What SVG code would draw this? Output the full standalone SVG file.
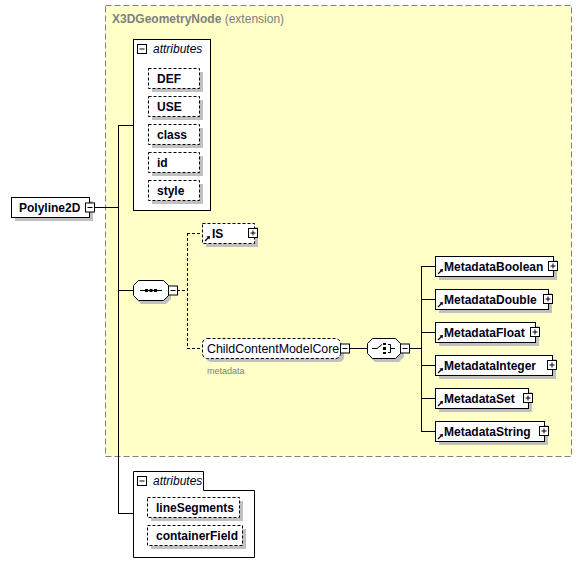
<svg xmlns="http://www.w3.org/2000/svg" width="582" height="577" viewBox="0 0 582 577">
<style>
text{font-family:"Liberation Sans",Arial,sans-serif;font-size:12px;fill:#000018}
.b{font-weight:bold}
.it{font-style:italic}
.sh{fill:#c0c0c0;stroke:none}
.box{fill:#fff;stroke:#000;stroke-width:1}
.opt{fill:#fff;stroke:#000;stroke-width:1;stroke-dasharray:3,2}
.ln{stroke:#000;stroke-width:1;fill:none}
.dl{stroke:#000;stroke-width:1;fill:none;stroke-dasharray:3,2}
.pm{fill:#fff;stroke:#000;stroke-width:1}
</style>
<defs>
<g id="minus"><rect class="pm" x="0.5" y="0.5" width="9" height="9"/><line class="ln" x1="2.5" y1="5" x2="7.5" y2="5"/></g>
<g id="plus"><rect class="pm" x="0.5" y="0.5" width="9" height="9"/><line class="ln" x1="2.5" y1="5" x2="7.5" y2="5"/><line class="ln" x1="5" y1="2.5" x2="5" y2="7.5"/></g>
<g id="ref"><line x1="0" y1="5" x2="3.5" y2="1.5" stroke="#000" stroke-width="1.2"/><path d="M1.5,0.5 L5,0 L4.5,3.5 Z" fill="#000"/></g>
</defs>

<g id="extension">
<rect x="105.5" y="5.5" width="466" height="451" fill="#ffffc8" stroke="#808080" stroke-dasharray="6,3"/>
<text x="112" y="23" class="b" style="fill:#808080">X3DGeometryNode <tspan style="font-weight:normal">(extension)</tspan></text>
</g>

<g id="connectors">
<line class="ln" x1="95" y1="207.5" x2="118.5" y2="207.5"/>
<line class="ln" x1="118.5" y1="125" x2="118.5" y2="513"/>
<line class="ln" x1="118" y1="125.5" x2="133" y2="125.5"/>
<line class="ln" x1="118" y1="290.5" x2="133" y2="290.5"/>
<line class="ln" x1="118" y1="513.5" x2="133" y2="513.5"/>
<line class="dl" x1="177" y1="290.5" x2="187.5" y2="290.5"/>
<line class="dl" x1="187.5" y1="233" x2="187.5" y2="348"/>
<line class="dl" x1="187" y1="233.5" x2="202" y2="233.5"/>
<line class="dl" x1="187" y1="348.5" x2="202" y2="348.5"/>
<line class="ln" x1="350" y1="348.5" x2="367" y2="348.5"/>
<line class="ln" x1="410" y1="348.5" x2="421.5" y2="348.5"/>
<line class="ln" x1="421.5" y1="266" x2="421.5" y2="432"/>
<line class="ln" x1="421" y1="266.5" x2="435" y2="266.5"/>
<line class="ln" x1="421" y1="299.5" x2="435" y2="299.5"/>
<line class="ln" x1="421" y1="332.5" x2="435" y2="332.5"/>
<line class="ln" x1="421" y1="365.5" x2="435" y2="365.5"/>
<line class="ln" x1="421" y1="398.5" x2="435" y2="398.5"/>
<line class="ln" x1="421" y1="431.5" x2="435" y2="431.5"/>
</g>

<g id="Polyline2D">
<rect class="sh" x="15" y="201" width="78" height="20"/>
<rect class="box" x="11.5" y="197.5" width="78" height="20"/>
<text x="19" y="212" class="b">Polyline2D</text>
<use href="#minus" x="85" y="202.5"/>
</g>

<g id="attributes1">
<rect class="box" x="133.5" y="39.5" width="77" height="171"/>
<use href="#minus" x="137" y="44"/>
<text x="153" y="53" class="it">attributes</text>
</g>
<g id="attr-DEF"><rect class="sh" x="152" y="72" width="51" height="20"/><rect class="opt" x="148.5" y="68.5" width="51" height="20"/><text x="157" y="83" class="b">DEF</text></g>
<g id="attr-USE"><rect class="sh" x="152" y="100" width="51" height="20"/><rect class="opt" x="148.5" y="96.5" width="51" height="20"/><text x="157" y="111" class="b">USE</text></g>
<g id="attr-class"><rect class="sh" x="152" y="128" width="51" height="20"/><rect class="opt" x="148.5" y="124.5" width="51" height="20"/><text x="157" y="139" class="b">class</text></g>
<g id="attr-id"><rect class="sh" x="152" y="156" width="51" height="20"/><rect class="opt" x="148.5" y="152.5" width="51" height="20"/><text x="157" y="167" class="b">id</text></g>
<g id="attr-style"><rect class="sh" x="152" y="184" width="51" height="20"/><rect class="opt" x="148.5" y="180.5" width="51" height="20"/><text x="157" y="195" class="b">style</text></g>

<g id="sequence">
<polygon class="sh" points="141,284 166,284 171,289 171,299 166,304 141,304 136,299 136,289"/>
<polygon class="box" points="138.5,280.5 163.5,280.5 168.5,285.5 168.5,295.5 163.5,300.5 138.5,300.5 133.5,295.5 133.5,285.5"/>
<line class="ln" x1="140" y1="290.5" x2="162" y2="290.5"/>
<rect x="145" y="289" width="3" height="3" fill="#000"/>
<rect x="149.5" y="289" width="3" height="3" fill="#000"/>
<rect x="154" y="289" width="3" height="3" fill="#000"/>
<use href="#minus" x="168" y="285.5"/>
</g>

<g id="IS">
<rect class="sh" x="206" y="227" width="52" height="20"/>
<rect class="opt" x="202.5" y="223.5" width="52" height="20"/>
<use href="#ref" x="205" y="236"/>
<text x="212" y="238" class="b">IS</text>
<use href="#plus" x="248" y="228"/>
</g>

<g id="ChildContentModelCore">
<rect class="sh" x="206" y="342" width="138" height="20" rx="5"/>
<rect class="opt" x="202.5" y="338.5" width="138" height="20" rx="5"/>
<text x="207" y="353" style="font-size:12.4px">ChildContentModelCore</text>
<use href="#minus" x="340" y="343.5"/>
<text x="207" y="374" style="font-size:9px;fill:#808080">metadata</text>
</g>

<g id="choice">
<polygon class="sh" points="375,342 399,342 404,347 404,357 399,362 375,362 370,357 370,347"/>
<polygon class="box" points="372.5,338.5 395.5,338.5 400.5,343.5 400.5,353.5 395.5,358.5 372.5,358.5 367.5,353.5 367.5,343.5"/>
<line class="ln" x1="372" y1="348.5" x2="377" y2="348.5"/>
<line class="ln" x1="377" y1="348.5" x2="382" y2="344.5"/>
<rect x="383" y="343" width="3" height="2" fill="#000"/>
<rect x="383" y="347" width="3" height="3" fill="#000"/>
<rect x="383" y="352" width="3" height="2" fill="#000"/>
<path class="ln" d="M388,344.5 H390.5 V352.5 H388 M390.5,348.5 H395"/>
<use href="#minus" x="400" y="343.5"/>
</g>

<g id="MetadataBoolean"><rect class="sh" x="439" y="260" width="118" height="20"/><rect class="box" x="435.5" y="256.5" width="118" height="20"/><use href="#ref" x="438" y="269"/><text x="444" y="271" class="b">MetadataBoolean</text><use href="#plus" x="548" y="261"/></g>
<g id="MetadataDouble"><rect class="sh" x="439" y="293" width="113" height="20"/><rect class="box" x="435.5" y="289.5" width="113" height="20"/><use href="#ref" x="438" y="302"/><text x="444" y="304" class="b">MetadataDouble</text><use href="#plus" x="543" y="294"/></g>
<g id="MetadataFloat"><rect class="sh" x="439" y="326" width="100" height="20"/><rect class="box" x="435.5" y="322.5" width="100" height="20"/><use href="#ref" x="438" y="335"/><text x="444" y="337" class="b">MetadataFloat</text><use href="#plus" x="530" y="327"/></g>
<g id="MetadataInteger"><rect class="sh" x="439" y="359" width="117" height="20"/><rect class="box" x="435.5" y="355.5" width="117" height="20"/><use href="#ref" x="438" y="368"/><text x="444" y="370" class="b">MetadataInteger</text><use href="#plus" x="547" y="360"/></g>
<g id="MetadataSet"><rect class="sh" x="439" y="392" width="93" height="20"/><rect class="box" x="435.5" y="388.5" width="93" height="20"/><use href="#ref" x="438" y="401"/><text x="444" y="403" class="b">MetadataSet</text><use href="#plus" x="523" y="393"/></g>
<g id="MetadataString"><rect class="sh" x="439" y="425" width="109" height="20"/><rect class="box" x="435.5" y="421.5" width="109" height="20"/><use href="#ref" x="438" y="434"/><text x="444" y="436" class="b">MetadataString</text><use href="#plus" x="539" y="426"/></g>

<g id="attributes2">
<path class="box" d="M133.5,471.5 H203.5 V490.5 H254.5 V557.5 H133.5 Z"/>
<use href="#minus" x="137" y="476"/>
<text x="153" y="485" class="it">attributes</text>
</g>
<g id="attr-lineSegments"><rect class="sh" x="151" y="501" width="92" height="20"/><rect class="opt" x="147.5" y="497.5" width="92" height="20"/><text x="156" y="512" class="b">lineSegments</text></g>
<g id="attr-containerField"><rect class="sh" x="151" y="529" width="95" height="20"/><rect class="opt" x="147.5" y="525.5" width="95" height="20"/><text x="156" y="540" class="b">containerField</text></g>
</svg>
